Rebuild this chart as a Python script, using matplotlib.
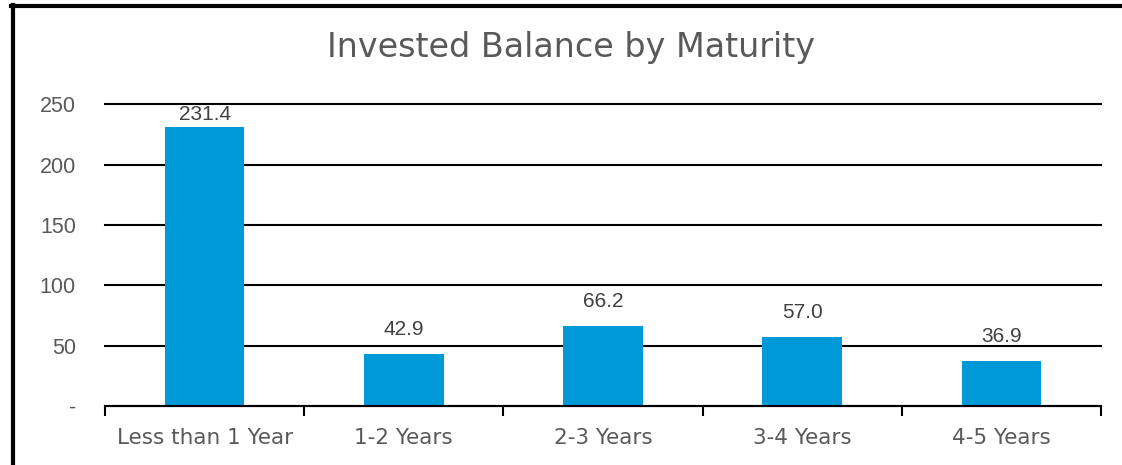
import matplotlib.pyplot as plt
from matplotlib.lines import Line2D

categories = ["Less than 1 Year", "1-2 Years", "2-3 Years", "3-4 Years", "4-5 Years"]
balances = [231.4, 42.9, 66.2, 57.0, 36.9]
yticks = [0, 50, 100, 150, 200, 250]
ytick_labels = ["-", "50", "100", "150", "200", "250"]

plt.rcParams['font.family'] = ['DejaVu Sans']
NUM_FONT = 'Liberation Sans'

fig = plt.figure(figsize=(11.22, 4.65), dpi=100)
ax = fig.add_axes([105/1122, 1 - 406/465, (1101 - 105)/1122, (406 - 104.5)/465])

x = list(range(len(categories)))
ax.bar(x, balances, width=0.4, color='#0099D8', zorder=3)
# labels float above the bars but stay inside the plot area
for xi, v in zip(x, balances):
    ax.text(xi, min(v + 20.7, 241.3), f"{v:.1f}", ha='center', va='center',
            fontsize=15, family=NUM_FONT, color='#404040', zorder=5)

ax.set_xlim(-0.5, len(categories) - 0.5)
ax.set_ylim(0, 250)
ax.set_yticks(yticks)
ax.set_yticklabels(ytick_labels, fontsize=15.5, family=NUM_FONT, color='#595959')
ax.tick_params(axis='y', length=0, pad=21)
ax.yaxis.grid(True, color='black', linewidth=1.5, zorder=0)
for gl in ax.get_ygridlines():
    gl.set_clip_on(False)

# category labels sit between boundary ticks
ax.set_xticks([i - 0.5 for i in range(len(categories) + 1)])
ax.set_xticklabels([])
ax.set_xticks(x, minor=True)
ax.set_xticklabels(categories, minor=True, fontsize=15.5, color='#595959')
ax.tick_params(axis='x', which='major', direction='out', length=7, width=1.5, color='black')
ax.tick_params(axis='x', which='minor', length=0, pad=16)

for s in ['top', 'right', 'left']:
    ax.spines[s].set_visible(False)
ax.spines['bottom'].set_linewidth(1.5)
ax.spines['bottom'].set_zorder(4)

fig.text(571/1122, 1 - 57/465, "Invested Balance by Maturity", ha='center', va='baseline',
         fontsize=24, color='#595959')

# outer frame on the left and top edges
fig.add_artist(Line2D([12.5/1122, 12.5/1122], [0, 1 - 5/465], color='black', linewidth=3))
fig.add_artist(Line2D([11/1122, 1], [1 - 6.5/465, 1 - 6.5/465], color='black', linewidth=3))

fig.savefig("out.png", dpi=100)
